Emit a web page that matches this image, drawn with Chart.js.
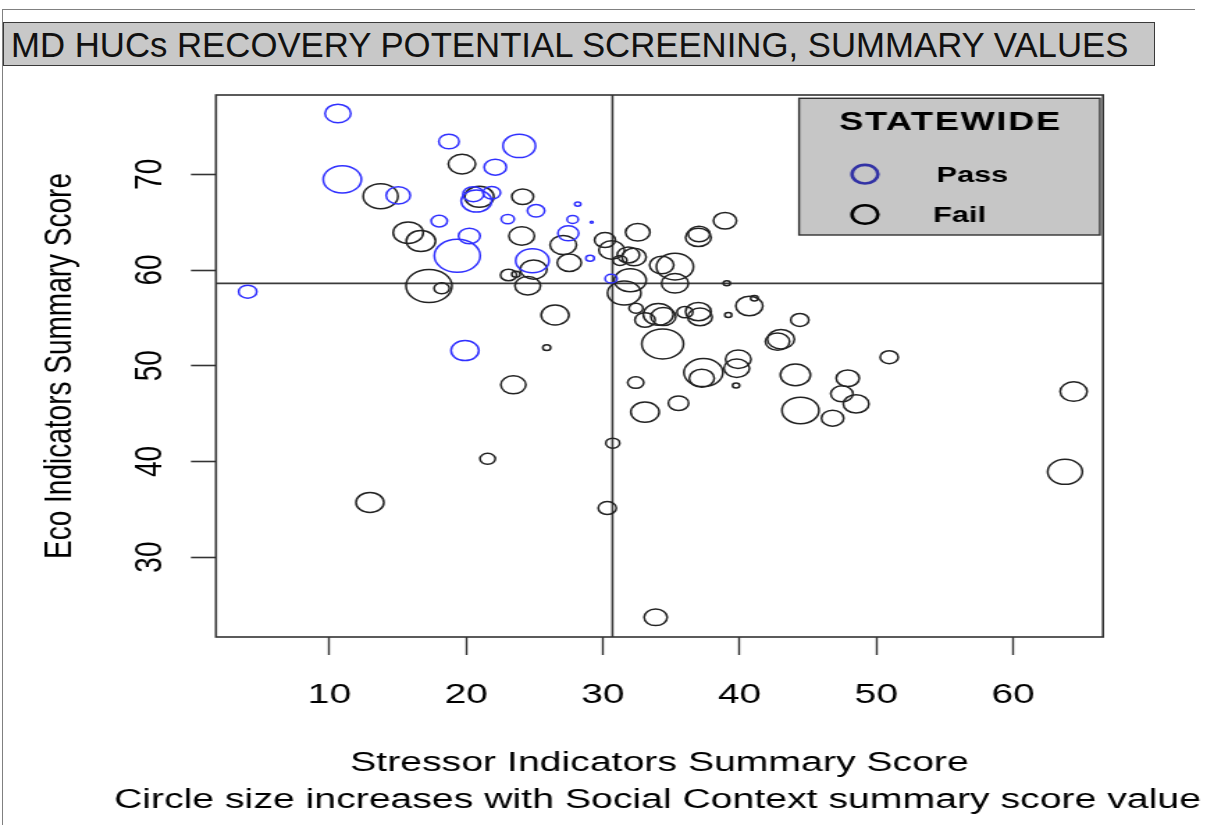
<!DOCTYPE html>
<html>
<head>
<meta charset="utf-8">
<script src="https://cdn.jsdelivr.net/npm/chart.js@4.4.1/dist/chart.umd.min.js"></script>
<style>
  html, body { margin:0; padding:0; background:#fff; width:1214px; height:825px; overflow:hidden; }
  body { position:relative; font-family:"Liberation Sans", Arial, sans-serif; }
  #wrap { position:absolute; left:0; top:0; width:873px; height:825px; transform:scaleX(1.3906); transform-origin:0 0; }
  #topline { position:absolute; left:3px; top:9px; width:1192px; height:1px; background:#808080; }
  #leftline { position:absolute; left:2px; top:9px; width:1px; height:816px; background:#808080; }
  #title { position:absolute; left:3px; top:22px; width:1143px; height:42px; background:#c8c8c8;
           border:1.5px solid #3a3a3a; font-size:34.75px; line-height:44px; color:#111;
           padding-left:7px; box-sizing:content-box; white-space:nowrap; overflow:hidden; }
</style>
</head>
<body>
<div id="wrap"><canvas id="c" width="873" height="825"></canvas></div>
<div id="topline"></div>
<div id="leftline"></div>
<div id="title">MD HUCs RECOVERY POTENTIAL SCREENING, SUMMARY VALUES</div>
<script>
// ---------------- data ----------------
const xTicks = [10, 20, 30, 40, 50, 60];
const yTicks = [30, 40, 50, 60, 70];

const xTitle = 'Stressor Indicators Summary Score';
const xCaption = 'Circle size increases with Social Context summary score value';
const yTitle = 'Eco Indicators Summary Score';
const chartTitle = 'MD HUCs RECOVERY POTENTIAL SCREENING, SUMMARY VALUES';
const legendTitle = 'STATEWIDE';
const legendLabels = ['Pass', 'Fail'];

// Pass (blue) watersheds
const passStressor = [10.62, 18.74, 23.88, 22.13, 10.94, 15.03, 20.52, 20.75, 21.87, 18.03, 23.04, 25.11,
                      20.23, 19.35, 27.47, 27.79, 28.16, 29.18, 24.84, 29.06, 30.6, 4.02, 19.91];
const passEco      = [76.36, 73.43, 72.97, 70.75, 69.47, 67.8, 67.93, 67.2, 68.07, 65.11, 65.32, 66.19,
                      63.55, 61.49, 63.83, 65.29, 66.89, 64.98, 60.97, 61.22, 59.1, 57.74, 51.58];
const passSocial   = [9.3, 7.3, 11.7, 8, 13.7, 8.7, 7.5, 11, 6.3, 5.8, 4.7, 6.2,
                      7.8, 16.5, 7.5, 4, 2.2, 1, 12, 3, 4.3, 6.5, 10];

// Fail (black) watersheds
const failStressor = [19.69, 13.74, 20.96, 24.13, 15.76, 16.69, 24.06, 27.1, 24.93, 27.54, 30.15, 30.64,
                      32.55, 38.93, 37.03, 36.98, 31.25, 31.86, 32.28, 34.3, 35.27, 23.1, 23.64, 24.5,
                      17.28, 18.21, 32.0, 31.56, 35.27, 39.06, 26.5, 32.42, 33.08, 34.05, 34.42, 36.0,
                      36.98, 37.1, 39.17, 40.71, 41.08, 34.37, 25.89, 43.02, 42.77, 44.4, 50.94, 23.45,
                      32.4, 33.08, 35.53, 37.35, 37.23, 39.9, 39.79, 39.74, 44.08, 47.91, 47.48, 48.52,
                      44.45, 46.8, 64.43, 63.8, 21.57, 30.72, 12.96, 30.32, 33.86];
const failEco      = [71.07, 67.72, 67.65, 67.65, 63.9, 63.03, 63.55, 62.61, 60.05, 60.76, 63.13, 62.09,
                      63.94, 65.15, 63.76, 63.41, 61.0, 61.57, 61.36, 60.52, 60.35, 59.48, 59.55, 58.35,
                      58.33, 58.09, 58.93, 57.6, 58.61, 58.61, 55.3, 56.0, 54.78, 55.37, 55.13, 55.6,
                      55.65, 55.1, 55.3, 56.24, 57.05, 52.28, 51.89, 52.77, 52.52, 54.78, 50.89, 48.0,
                      48.24, 45.15, 46.08, 49.28, 48.69, 50.68, 49.74, 47.92, 49.04, 48.69, 47.06, 46.01,
                      45.32, 44.52, 47.3, 38.91, 40.27, 41.91, 35.71, 35.13, 23.71];
const failSocial   = [9.8, 12.5, 10.5, 7.8, 10.8, 10.5, 9.2, 9.5, 9.6, 8.7, 7.5, 9.2,
                      8.8, 8.3, 7.8, 9.2, 5, 8, 8.7, 8.7, 13.3, 5.8, 3, 9.2,
                      16.5, 5.5, 11.5, 12, 9.7, 2.5, 10, 5, 7.3, 10.8, 9, 5.7,
                      9.2, 8.8, 2.5, 9.7, 2.7, 15, 2.8, 9.7, 8.7, 6.5, 6.5, 9,
                      5.8, 10.2, 7.3, 14, 9, 9.2, 9.2, 2.5, 10.8, 8.3, 8, 9.2,
                      13.3, 8, 9.7, 12.5, 5.5, 5, 10, 6.5, 8.3];

// reference lines (statewide medians)
const medianStressor = 30.7;
const medianEco = 58.6;

// ---------------- presentation ----------------
const FONT = '"Liberation Sans", Arial, sans-serif';
const RADIUS_PER_UNIT = 1;   // circle radius (px) per social-context unit
const PASS_COLOR = 'rgb(48,48,255)';
const FAIL_COLOR = '#222';

function toPoints(xs, ys, ss) {
  return xs.map((x, i) => ({ x: x, y: ys[i], r: ss[i] * RADIUS_PER_UNIT }));
}

const guidePlugin = {
  id: 'guides',
  beforeDatasetsDraw(chart) {
    const { ctx, chartArea: a, scales } = chart;
    const px = scales.x.getPixelForValue(medianStressor);
    const py = scales.y.getPixelForValue(medianEco);
    ctx.save();
    ctx.strokeStyle = '#3a3a3a';
    ctx.lineWidth = 1.6;
    ctx.beginPath();
    ctx.moveTo(px, a.top); ctx.lineTo(px, a.bottom);
    ctx.moveTo(a.left, py); ctx.lineTo(a.right, py);
    ctx.stroke();
    ctx.restore();
  },
  afterDraw(chart) {
    const { ctx, chartArea: a } = chart;
    ctx.save();
    ctx.strokeStyle = '#333';
    ctx.lineWidth = 1.6;
    ctx.strokeRect(a.left, a.top, a.right - a.left, a.bottom - a.top);
    // second line of the x-axis caption (wider than the axis, so drawn here)
    ctx.fillStyle = '#000';
    ctx.font = '28.2px ' + FONT;
    ctx.textAlign = 'center';
    ctx.textBaseline = 'middle';
    ctx.fillText(xCaption, (a.left + a.right) / 2 - 1.5, 800);
    ctx.restore();
  }
};

const legendPlugin = {
  id: 'statewideLegend',
  afterDraw(chart) {
    const { ctx, chartArea: a } = chart;
    const w = 216.4, h = 136.7;
    const x = a.right - 2.2 - w, y = a.top + 3.3;
    ctx.save();
    ctx.fillStyle = '#c6c6c6';
    ctx.fillRect(x, y, w, h);
    ctx.strokeStyle = '#333';
    ctx.lineWidth = 1.4;
    ctx.strokeRect(x, y, w, h);

    ctx.fillStyle = '#000';
    ctx.textBaseline = 'middle';
    ctx.textAlign = 'center';
    ctx.font = 'bold 26px ' + FONT;
    ctx.letterSpacing = '1.2px';
    ctx.fillText(legendTitle, x + w / 2 + 0.6, y + 25);
    ctx.letterSpacing = '0px';

    const colors = ['rgb(50,50,165)', '#000'];
    const rowsY = [77.2, 117.5];
    const textX = [99, 96.5];
    ctx.lineWidth = 2.6;
    ctx.textAlign = 'left';
    ctx.font = 'bold 22px ' + FONT;
    legendLabels.forEach((lab, i) => {
      ctx.strokeStyle = colors[i];
      ctx.beginPath();
      ctx.arc(x + 47.4, y + rowsY[i] - 1.3, 9.3, 0, Math.PI * 2);
      ctx.stroke();
      ctx.fillStyle = '#000';
      ctx.fillText(lab, x + textX[i], y + rowsY[i]);
    });
    ctx.restore();
  }
};

new Chart(document.getElementById('c'), {
  type: 'bubble',
  data: {
    datasets: [
      { label: legendLabels[0], data: toPoints(passStressor, passEco, passSocial),
        borderColor: PASS_COLOR, backgroundColor: 'rgba(0,0,0,0)', borderWidth: 1.5 },
      { label: legendLabels[1], data: toPoints(failStressor, failEco, failSocial),
        borderColor: FAIL_COLOR, backgroundColor: 'rgba(0,0,0,0)', borderWidth: 1.5 }
    ]
  },
  options: {
    responsive: false,
    animation: false,
    events: [],
    layout: { padding: { left: 0, right: 79.8, top: 95, bottom: 0 } },
    plugins: { legend: { display: false }, tooltip: { enabled: false }, title: { display: false } },
    scales: {
      x: {
        type: 'linear', min: 1.7, max: 66.58,
        afterBuildTicks: s => { s.ticks = xTicks.map(v => ({ value: v })); },
        afterFit: s => { s.height = 188; },
        grid: { drawOnChartArea: false, drawTicks: true, tickLength: 18, tickWidth: 1.4, tickColor: '#333' },
        border: { display: false },
        ticks: { font: { family: FONT, size: 28 }, color: '#000', padding: 23, maxRotation: 0, autoSkip: false },
        title: { display: true, text: xTitle, color: '#000',
                 font: { family: FONT, size: 28.2, lineHeight: 1.2 }, padding: { top: 0, bottom: 45.2 } }
      },
      y: {
        type: 'linear', min: 21.65, max: 78.29,
        afterBuildTicks: s => { s.ticks = yTicks.map(v => ({ value: v })); },
        afterFit: s => { s.width = 155.3; },
        grid: { drawOnChartArea: false, drawTicks: true, tickLength: 18, tickWidth: 1.6, tickColor: '#333' },
        border: { display: false },
        ticks: { font: { family: FONT, size: 28 }, color: '#000', padding: 13.8,
                 minRotation: 90, maxRotation: 90, crossAlign: 'center', autoSkip: false },
        title: { display: true, text: yTitle, color: '#000',
                 font: { family: FONT, size: 28 }, padding: { top: 26.4, bottom: 0 } }
      }
    }
  },
  plugins: [guidePlugin, legendPlugin]
});
</script>
</body>
</html>
